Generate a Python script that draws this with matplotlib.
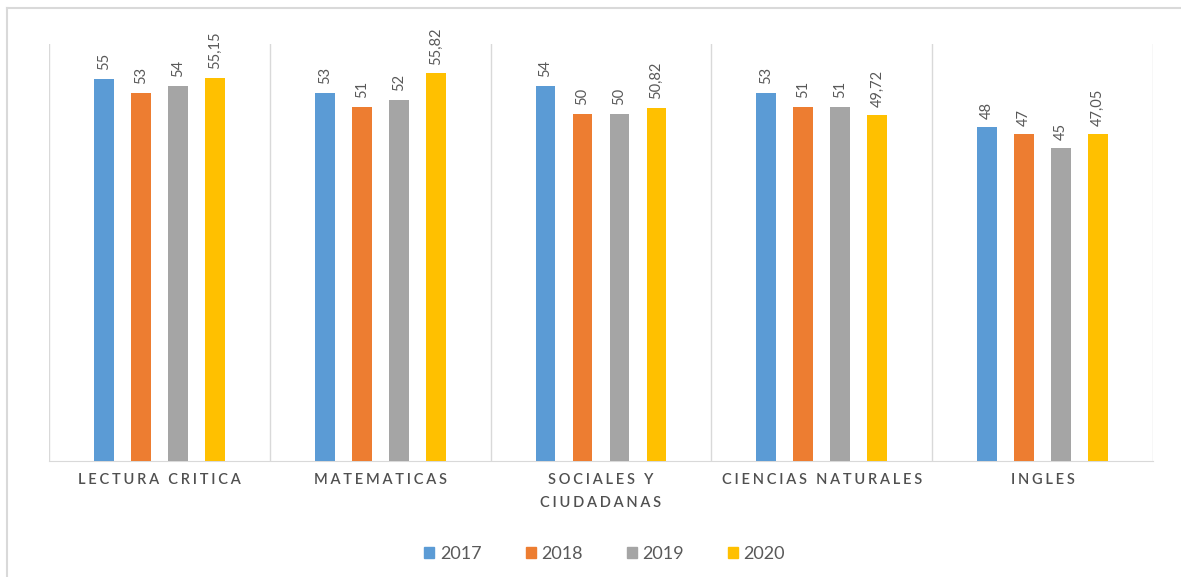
import matplotlib.pyplot as plt
from matplotlib.patches import Patch
from matplotlib.lines import Line2D

plt.rcParams['font.family'] = ['Lato', 'DejaVu Sans']

categories = ["LECTURA CRITICA", "MATEMATICAS", "SOCIALES Y\nCIUDADANAS",
              "CIENCIAS NATURALES", "INGLES"]
years = ["2017", "2018", "2019", "2020"]
v2017 = [55, 53, 54, 53, 48]
v2018 = [53, 51, 50, 51, 47]
v2019 = [54, 52, 50, 51, 45]
v2020 = [55.15, 55.82, 50.82, 49.72, 47.05]
colors = ["#5B9BD5", "#ED7D31", "#A5A5A5", "#FFC000"]
txt = "#595959"
grid = "#D9D9D9"


def spaced(s):
    # fake letter spacing with thin spaces
    return "\n".join("\u2009\u200a".join(line) for line in s.split("\n"))


fig = plt.figure(figsize=(11.81, 5.77), dpi=100)
ax = fig.add_axes([49 / 1181, 116 / 577, 1104 / 1181, 417 / 577])

series = [v2017, v2018, v2019, v2020]
step = 0.1676
width = 0.09
for j, vals in enumerate(series):
    xs = [i + 0.5 + (j - 1.5) * step for i in range(len(categories))]
    bars = ax.bar(xs, vals, width=width, color=colors[j], zorder=3)
    for x, v in zip(xs, vals):
        lab = f"{v:g}".replace(".", ",")
        ax.annotate(lab, (x, v), xytext=(0, 6), textcoords="offset points",
                    rotation=90, ha="center", va="bottom", fontsize=10.5,
                    color=txt)

for k in range(len(categories) + 1):
    ax.axvline(k, color=grid, lw=1, zorder=1)

ax.set_xlim(0, len(categories))
ax.set_ylim(0, 60)
ax.set_yticks([])
ax.set_xticks([i + 0.5 for i in range(len(categories))])
ax.set_xticklabels([spaced(c) for c in categories], fontsize=10.5, color="#505050",
                   fontweight="semibold", linespacing=1.75)
ax.tick_params(axis="x", length=0, pad=9)
for s in ["top", "left", "right"]:
    ax.spines[s].set_visible(False)
ax.spines["bottom"].set_color(grid)

handles = [Patch(color=c) for c in colors]
fig.legend(handles, years, loc="center", bbox_to_anchor=(0.512, 23 / 577),
           ncol=4, frameon=False, fontsize=13, handlelength=0.55,
           handleheight=0.55, handletextpad=0.3, columnspacing=2.45,
           labelcolor=txt)

# outer chart border (only top and left visible in the crop)
fig.add_artist(Line2D([6.5 / 1181, 1], [1 - 7.5 / 577, 1 - 7.5 / 577],
                      transform=fig.transFigure, color=grid, lw=1.5))
fig.add_artist(Line2D([6.5 / 1181, 6.5 / 1181], [0, 1 - 7.5 / 577],
                      transform=fig.transFigure, color=grid, lw=1.5))

fig.savefig("out.png", dpi=100)
